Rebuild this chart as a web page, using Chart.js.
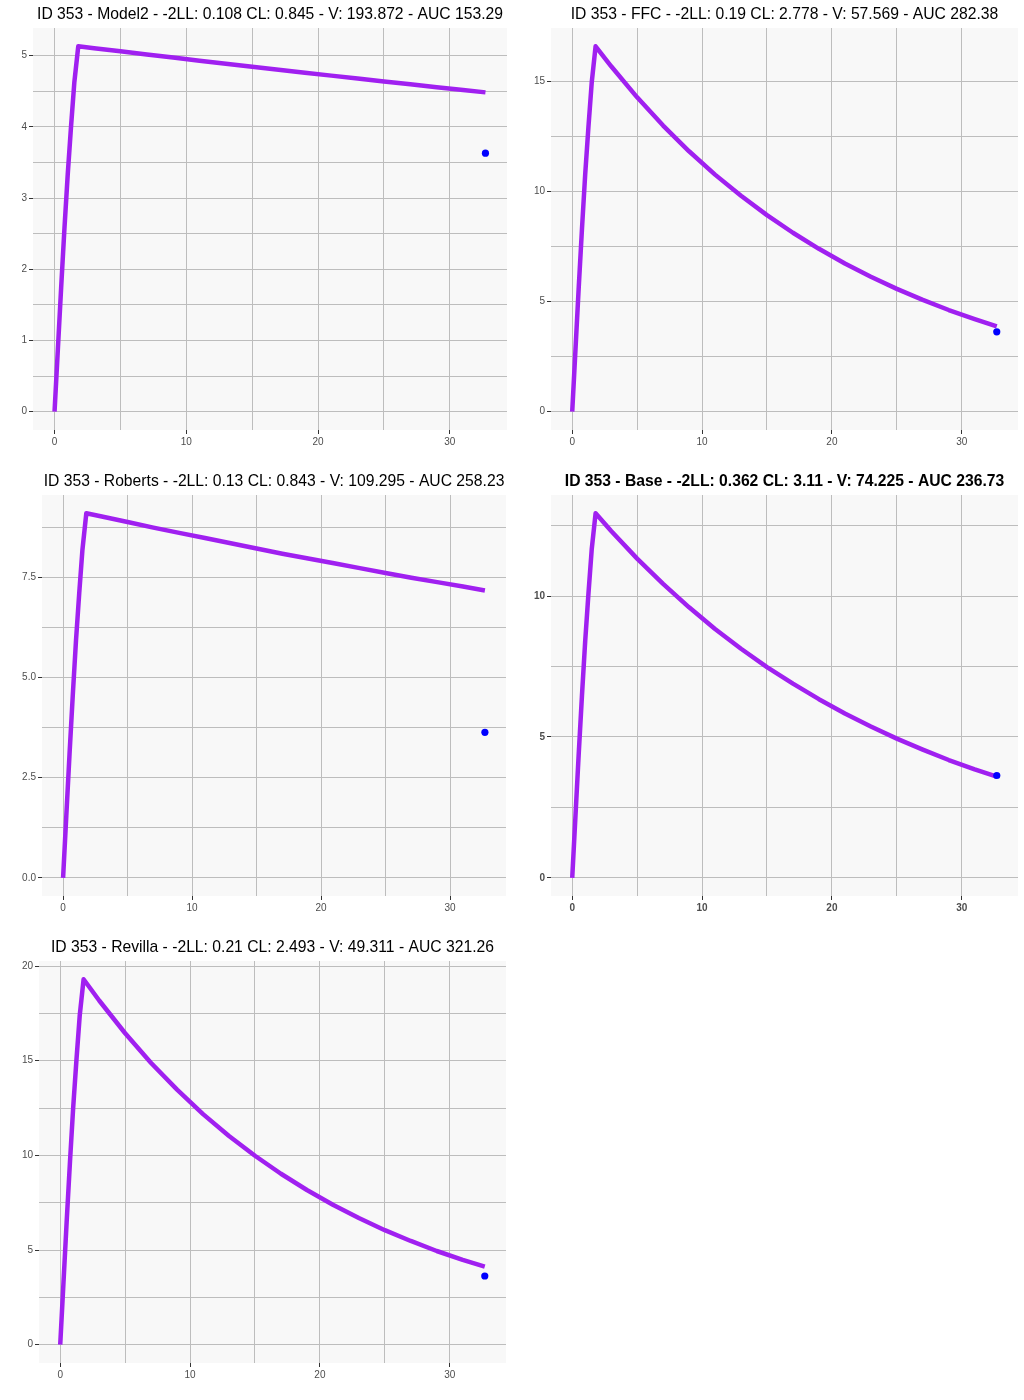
<!DOCTYPE html>
<html>
<head>
<meta charset="utf-8">
<script src="https://cdn.jsdelivr.net/npm/chart.js@4.4.0/dist/chart.umd.min.js"></script>
<style>
  body { margin: 0; background: #ffffff; }
  #wrap { position: relative; width: 1024px; height: 1400px; }
  canvas { position: absolute; }
</style>
</head>
<body>
<div id="wrap">
  <canvas id="c1" width="512" height="455" style="left:0px;top:0px"></canvas>
  <canvas id="c2" width="512" height="455" style="left:512px;top:0px"></canvas>
  <canvas id="c3" width="512" height="455" style="left:0px;top:467px"></canvas>
  <canvas id="c4" width="512" height="455" style="left:512px;top:467px"></canvas>
  <canvas id="c5" width="512" height="455" style="left:0px;top:933px"></canvas>
</div>
<script>
// time (h) of the predicted curves
const times = [0, 0.25, 0.5, 0.75, 1, 1.25, 1.5, 1.8, 3, 5, 7, 9, 11, 13, 15, 17, 19, 21, 23, 25, 27, 29, 31, 32.7];

// predicted concentration per model
const model2Conc = [0, 0.87, 1.74, 2.57, 3.33, 4.00, 4.62, 5.13, 5.103, 5.059, 5.015, 4.971, 4.928, 4.885, 4.843, 4.801, 4.759, 4.718, 4.677, 4.636, 4.596, 4.556, 4.517, 4.483];
const ffcConc = [0, 2.82, 5.64, 8.30, 10.79, 12.95, 14.94, 16.6, 15.69, 14.28, 13.00, 11.83, 10.77, 9.81, 8.93, 8.13, 7.40, 6.73, 6.13, 5.58, 5.08, 4.62, 4.21, 3.88];
const robertsConc = [0, 1.55, 3.09, 4.55, 5.92, 7.10, 8.19, 9.1, 9.02, 8.88, 8.74, 8.61, 8.48, 8.35, 8.22, 8.09, 7.97, 7.85, 7.73, 7.61, 7.49, 7.38, 7.27, 7.17];
const baseConc = [0, 2.20, 4.40, 6.47, 8.41, 10.09, 11.65, 12.94, 12.31, 11.33, 10.43, 9.60, 8.83, 8.13, 7.48, 6.89, 6.34, 5.83, 5.37, 4.94, 4.55, 4.18, 3.85, 3.59];
const revillaConc = [0, 3.28, 6.56, 9.65, 12.55, 15.05, 17.37, 19.3, 18.18, 16.45, 14.88, 13.47, 12.18, 11.02, 9.98, 9.03, 8.17, 7.39, 6.69, 6.05, 5.48, 4.95, 4.48, 4.12];

// observed sample
const obsTime = [32.7];
const obsConc = [3.63];

// titles
const titles = [
  "ID 353 - Model2 - -2LL: 0.108 CL: 0.845 - V: 193.872 - AUC 153.29",
  "ID 353 - FFC - -2LL: 0.19 CL: 2.778 - V: 57.569 - AUC 282.38",
  "ID 353 - Roberts - -2LL: 0.13 CL: 0.843 - V: 109.295 - AUC 258.23",
  "ID 353 - Base - -2LL: 0.362 CL: 3.11 - V: 74.225 - AUC 236.73",
  "ID 353 - Revilla - -2LL: 0.21 CL: 2.493 - V: 49.311 - AUC 321.26"
];

// axis breaks
const xBreaks = [0, 10, 20, 30];
const xMinor = [5, 15, 25];
const yBreaks1 = [0, 1, 2, 3, 4, 5];
const yMinor1 = [0.5, 1.5, 2.5, 3.5, 4.5];
const yBreaks2 = [0, 5, 10, 15];
const yMinor2 = [2.5, 7.5, 12.5];
const yBreaks3 = [0, 2.5, 5, 7.5];
const yLabels3 = ["0.0", "2.5", "5.0", "7.5"];
const yMinor3 = [1.25, 3.75, 6.25, 8.75];
const yBreaks4 = [0, 5, 10];
const yMinor4 = [2.5, 7.5, 12.5];
const yBreaks5 = [0, 5, 10, 15, 20];
const yMinor5 = [2.5, 7.5, 12.5, 17.5];

const panels = [
  { id: "c1", conc: model2Conc, yBreaks: yBreaks1, yMinor: yMinor1, yLabels: null, yWidth: 33, padRight: 5, areaBottom: 430, bold: false },
  { id: "c2", conc: ffcConc, yBreaks: yBreaks2, yMinor: yMinor2, yLabels: null, yWidth: 39, padRight: 6, areaBottom: 430, bold: false },
  { id: "c3", conc: robertsConc, yBreaks: yBreaks3, yMinor: yMinor3, yLabels: yLabels3, yWidth: 42, padRight: 6, areaBottom: 429, bold: false },
  { id: "c4", conc: baseConc, yBreaks: yBreaks4, yMinor: yMinor4, yLabels: null, yWidth: 39, padRight: 6, areaBottom: 429, bold: true },
  { id: "c5", conc: revillaConc, yBreaks: yBreaks5, yMinor: yMinor5, yLabels: null, yWidth: 39, padRight: 6, areaBottom: 430, bold: false }
];

const panelBg = {
  id: "panelBg",
  beforeDraw(chart) {
    const a = chart.chartArea;
    chart.ctx.save();
    chart.ctx.fillStyle = "#F8F8F8";
    chart.ctx.fillRect(a.left, a.top, a.right - a.left, a.bottom - a.top);
    chart.ctx.restore();
  }
};

// ggplot style 5% expansion
function expand(lo, hi) {
  const d = (hi - lo) * 0.05;
  return [lo - d, hi + d];
}

function axisOpts(breaks, minor, labels, range, bold, fit) {
  return {
    type: "linear",
    min: range[0],
    max: range[1],
    afterBuildTicks: (scale) => {
      scale.ticks = breaks.concat(minor).sort((a, b) => a - b).map(v => ({ value: v }));
    },
    afterFit: fit,
    border: { display: false },
    grid: {
      color: "#BDBDBD",
      lineWidth: 1,
      tickLength: 4,
      tickColor: (ctx) => (ctx.tick && breaks.includes(ctx.tick.value)) ? "#333333" : "rgba(0,0,0,0)"
    },
    ticks: {
      autoSkip: false,
      maxRotation: 0,
      padding: 2,
      color: "#4D4D4D",
      font: { family: "'Liberation Sans', Arial, sans-serif", size: 10, weight: bold ? "bold" : "normal" },
      callback: (value) => {
        const i = breaks.indexOf(value);
        if (i < 0) return "";
        return labels ? labels[i] : String(value);
      }
    }
  };
}

panels.forEach((p, k) => {
  const ctx = document.getElementById(p.id).getContext("2d");
  const xRange = expand(0, Math.max(...times, ...obsTime));
  const yRange = expand(0, Math.max(...p.conc, ...obsConc));

  new Chart(ctx, {
    type: "scatter",
    data: {
      datasets: [
        {
          data: obsTime.map((t, i) => ({ x: t, y: obsConc[i] })),
          backgroundColor: "#0000FF",
          borderWidth: 0,
          pointRadius: 3.6,
          order: 0
        },
        {
          data: times.map((t, i) => ({ x: t, y: p.conc[i] })),
          showLine: true,
          borderColor: "#A020F0",
          borderWidth: 4.5,
          borderJoinStyle: "round",
          borderCapStyle: "butt",
          pointRadius: 0,
          tension: 0,
          order: 1
        }
      ]
    },
    options: {
      responsive: false,
      animation: false,
      devicePixelRatio: 1,
      layout: { padding: { left: 0, right: p.padRight, top: 0, bottom: 455 - p.areaBottom - 20 } },
      scales: {
        x: axisOpts(xBreaks, xMinor, null, xRange, p.bold, (s) => { s.height = 20; }),
        y: axisOpts(p.yBreaks, p.yMinor, p.yLabels, yRange, p.bold, (s) => { s.width = p.yWidth; })
      },
      plugins: {
        legend: { display: false },
        tooltip: { enabled: false },
        title: {
          display: true,
          text: titles[k],
          fullSize: false,
          color: "#000000",
          padding: { top: 5, bottom: 3 },
          font: { family: "'Liberation Sans', Arial, sans-serif", size: 15.7, weight: p.bold ? "bold" : "normal", lineHeight: "20px" }
        }
      }
    },
    plugins: [panelBg]
  });
});
</script>
</body>
</html>
